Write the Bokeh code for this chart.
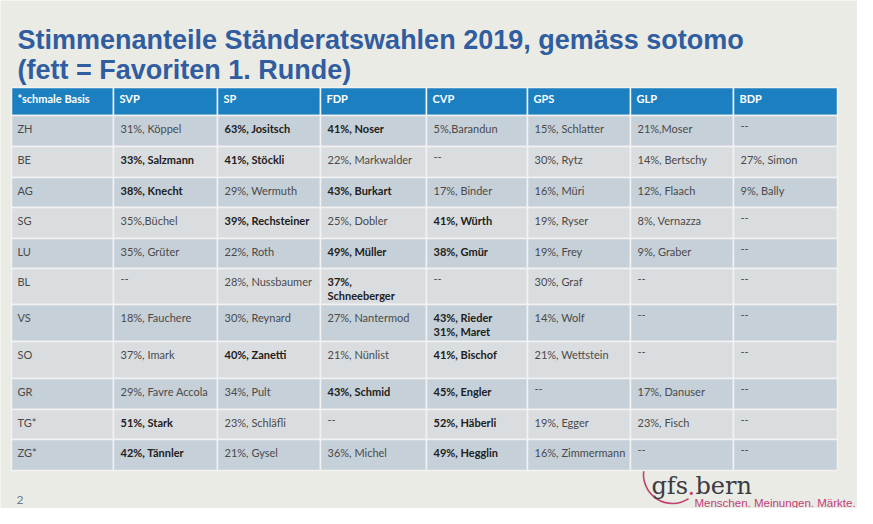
from bokeh.plotting import figure
from bokeh.models import ColumnDataSource, Range1d
from bokeh.core.properties import value
from bokeh.embed import file_html
from bokeh.resources import INLINE

# ---------------- data ----------------
title_line1 = "Stimmenanteile Ständeratswahlen 2019, gemäss sotomo"
title_line2 = "(fett = Favoriten 1. Runde)"
corner_label = "*schmale Basis"
parties = ["SVP", "SP", "FDP", "CVP", "GPS", "GLP", "BDP"]
cantons = ["ZH", "BE", "AG", "SG", "LU", "BL", "VS", "SO", "GR", "TG*", "ZG*"]

svp = ["31%, Köppel", "33%, Salzmann", "38%, Knecht", "35%,Büchel", "35%, Grüter", "--",
       "18%, Fauchere", "37%, Imark", "29%, Favre Accola", "51%, Stark", "42%, Tännler"]
svp_bold = [0, 1, 1, 0, 0, 0, 0, 0, 0, 1, 1]
sp = ["63%, Jositsch", "41%, Stöckli", "29%, Wermuth", "39%, Rechsteiner", "22%, Roth",
      "28%, Nussbaumer", "30%, Reynard", "40%, Zanetti", "34%, Pult", "23%, Schläfli", "21%, Gysel"]
sp_bold = [1, 1, 0, 1, 0, 0, 0, 1, 0, 0, 0]
fdp = ["41%, Noser", "22%, Markwalder", "43%, Burkart", "25%, Dobler", "49%, Müller",
       "37%,\nSchneeberger", "27%, Nantermod", "21%, Nünlist", "43%, Schmid", "--", "36%, Michel"]
fdp_bold = [1, 0, 1, 0, 1, 1, 0, 0, 1, 0, 0]
cvp = ["5%,Barandun", "--", "17%, Binder", "41%, Würth", "38%, Gmür", "--",
       "43%, Rieder\n31%, Maret", "41%, Bischof", "45%, Engler", "52%, Häberli", "49%, Hegglin"]
cvp_bold = [0, 0, 0, 1, 1, 0, 1, 1, 1, 1, 1]
gps = ["15%, Schlatter", "30%, Rytz", "16%, Müri", "19%, Ryser", "19%, Frey", "30%, Graf",
       "14%, Wolf", "21%, Wettstein", "--", "19%, Egger", "16%, Zimmermann"]
gps_bold = [0] * 11
glp = ["21%,Moser", "14%, Bertschy", "12%, Flaach", "8%, Vernazza", "9%, Graber", "--",
       "--", "--", "17%, Danuser", "23%, Fisch", "--"]
glp_bold = [0] * 11
bdp = ["--", "27%, Simon", "9%, Bally", "--", "--", "--", "--", "--", "--", "--", "--"]
bdp_bold = [0] * 11

party_cells = [svp, sp, fdp, cvp, gps, glp, bdp]
party_bold = [svp_bold, sp_bold, fdp_bold, cvp_bold, gps_bold, glp_bold, bdp_bold]

page_number = "2"
logo_a, logo_dot, logo_b = "gfs", ".", "bern"
tagline = "Menschen. Meinungen. Märkte."

# ---------------- layout ----------------
col_edges = [11, 113, 217, 320, 426, 527, 630, 733, 837]
row_edges = [87, 115, 146, 177, 207, 238, 268, 304, 341, 378, 409, 439, 470]

BG = "#EBEBE5"
HEADER = "#1C7FC0"
DARK = "#C6D0D9"
LIGHT = "#DADDDF"
GRID = "#F1F2F1"

p = figure(width=857, height=508, output_backend="svg", toolbar_location=None,
           x_range=Range1d(0, 857), y_range=Range1d(508, 0), min_border=0)
p.xaxis.visible = False
p.yaxis.visible = False
p.grid.visible = False
p.outline_line_color = None
p.background_fill_color = BG
p.border_fill_color = BG

# logo arc (behind table)
p.arc(x=[672], y=[474], radius=29, start_angle=3.0, end_angle=5.3,
      direction="anticlock", line_color="#C0426F", line_width=1.6)

# ---------------- cells ----------------
L, R, T, B, C = [], [], [], [], []
for j in range(len(col_edges) - 1):
    L.append(col_edges[j]); R.append(col_edges[j + 1])
    T.append(row_edges[0]); B.append(row_edges[1]); C.append(HEADER)
for i in range(len(cantons)):
    for j in range(len(col_edges) - 1):
        L.append(col_edges[j]); R.append(col_edges[j + 1])
        T.append(row_edges[i + 1]); B.append(row_edges[i + 2])
        C.append(DARK if i % 2 == 0 else LIGHT)
p.quad(left=L, right=R, top=T, bottom=B, fill_color=C, line_color=GRID, line_width=1.5)

# header texts
hx = [c + 6 for c in col_edges[:-1]]
hy = [row_edges[0] + 11] * len(hx)
p.text(x=hx, y=hy, text=[corner_label] + parties, text_color="white",
       text_font=value("Lato"), text_font_style="bold", text_font_size="11px",
       text_baseline="middle", text_align="left")

# body texts
tx, ty, tt, ts, tc = [], [], [], [], []
for i, canton in enumerate(cantons):
    top = row_edges[i + 1]
    tx.append(col_edges[0] + 6); ty.append(top + 6); tt.append(canton)
    ts.append("normal"); tc.append("#4A4A4A")
    for j in range(len(parties)):
        tx.append(col_edges[j + 1] + 7); ty.append(top + 6)
        tt.append(party_cells[j][i])
        b = party_bold[j][i]
        ts.append("bold" if b else "normal")
        tc.append("#202020" if b else "#4A4A4A")
src = ColumnDataSource(dict(x=tx, y=ty, text=tt, style=ts, color=tc))
p.text(x="x", y="y", text="text", source=src, text_font=value("Lato"),
       text_font_style="style", text_color="color", text_font_size="11px",
       text_baseline="top", text_align="left", text_line_height=1.15)

# title
p.text(x=[17, 17], y=[39, 69], text=[title_line1, title_line2], text_color="#2F5D9F",
       text_font=value("Liberation Sans"), text_font_style="bold", text_font_size="27px",
       text_baseline="middle", text_align="left")

# page number
p.text(x=[16], y=[499], text=[page_number], text_color="#6B7A8C",
       text_font=value("Lato"), text_font_size="12px", text_baseline="middle")

# logo
p.text(x=[651], y=[485], text=[logo_a], text_color="#3B3B42",
       text_font=value("DejaVu Serif"), text_font_size="24px", text_baseline="alphabetic")
p.text(x=[687], y=[485], text=[logo_dot], text_color="#C0426F",
       text_font=value("DejaVu Serif"), text_font_size="24px", text_baseline="alphabetic")
p.text(x=[695], y=[485], text=[logo_b], text_color="#3B3B42",
       text_font=value("DejaVu Serif"), text_font_size="24px", text_baseline="alphabetic")
p.text(x=[694], y=[502], text=[tagline], text_color="#C0427A",
       text_font=value("Liberation Sans"), text_font_size="11.5px", text_baseline="alphabetic")

open("out.html", "w").write(file_html(p, INLINE))
